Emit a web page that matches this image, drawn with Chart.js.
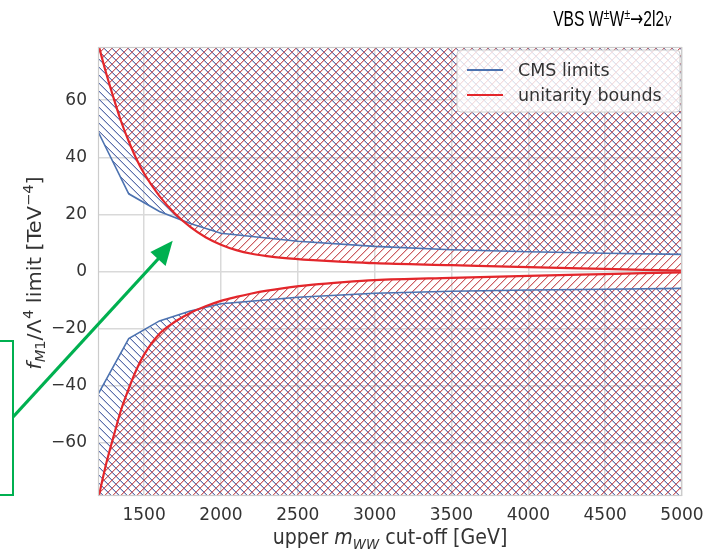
<!DOCTYPE html>
<html><head><meta charset="utf-8">
<script src="https://cdn.jsdelivr.net/npm/chart.js@4/dist/chart.umd.min.js"></script>
<style>
html,body{margin:0;padding:0;background:#fff;}
#wrap{position:relative;width:714px;height:552px;overflow:hidden;background:#fff;}
#c{position:absolute;left:0;top:0;}
#title{position:absolute;right:43px;top:8px;font-family:"Liberation Sans",Arial,sans-serif;font-size:22px;line-height:22px;color:#000;white-space:nowrap;transform-origin:right center;}
#title sup{font-size:70%;vertical-align:0;position:relative;top:-0.45em;line-height:0;}
#title i{font-family:"Liberation Serif","DejaVu Serif",serif;}
#title .ar{font-family:"DejaVu Sans",sans-serif;}
#ov{position:absolute;left:0;top:0;}
</style></head>
<body><div id="wrap">
<canvas id="c" width="714" height="552"></canvas>
<div id="title">VBS W<sup>±</sup>W<sup>±</sup><span class="ar">→</span>2l2<i>ν</i></div>
<svg id="ov" width="714" height="552">
 <rect x="-10" y="341" width="23" height="154" fill="none" stroke="#00b050" stroke-width="2"/>
 <line x1="13" y1="417" x2="159" y2="258" stroke="#00b050" stroke-width="3.3"/>
 <polygon points="172.7,240.7 150.4,252.1 165.6,265.9" fill="#00b050"/>
</svg>
</div>
<script>
// ---- data ----
const seriesNames = ['CMS limits', 'unitarity bounds'];
const xCms = [1200, 1400, 1600, 1800, 2000, 2500, 3000, 3500, 4000, 4500, 5000];
const cmsUpper = [49, 27.2, 21, 16.8, 13.4, 10.6, 8.8, 7.6, 6.9, 6.4, 6.0];
const cmsLower = [-43, -23.5, -17.3, -13.8, -11.3, -9.0, -7.6, -6.9, -6.5, -6.2, -5.9];
const xUnit = [1200, 1250, 1300, 1350, 1400, 1450, 1500, 1600, 1700, 1800, 1900, 2000, 2100, 2200, 2300, 2400, 2600, 2800, 3000, 3500, 4000, 4500, 5000];
const unitUpper = [80, 70, 61, 52.6, 45.6, 39.4, 34.3, 26.4, 20.3, 15.6, 12.0, 9.4, 7.5, 6.2, 5.4, 4.8, 4.0, 3.4, 2.9, 2.2, 1.5, 0.9, 0.3];
const unitLower = [-80, -68, -58, -48.5, -41, -34.4, -29.1, -21.8, -17.6, -14.5, -12.2, -10.3, -8.9, -7.7, -6.7, -5.9, -4.6, -3.7, -3.0, -2.2, -1.5, -0.9, -0.3];
const xTicks = [1500, 2000, 2500, 3000, 3500, 4000, 4500, 5000];
const yTicks = [-60, -40, -20, 0, 20, 40, 60];
const xRange = [1200, 5000];
const yRange = [-78.6, 78.6];

// ---- styles ----
const BLUE = '#4c72b0', RED = '#e3262b', GRID = '#d9d9d9', TXT = '#333333';
// pixel-exact hatch tiles (period P), '/' or '\'
function makeHatch(dir, rgb, P) {
  const c = document.createElement('canvas'); c.width = P; c.height = P;
  const g = c.getContext('2d');
  const img = g.createImageData(P, P);
  const put = (x, y, a) => {
    x = ((x % P) + P) % P; y = ((y % P) + P) % P;
    const i = (y * P + x) * 4;
    const na = Math.max(img.data[i + 3], Math.round(a * 255));
    img.data[i] = rgb[0]; img.data[i + 1] = rgb[1]; img.data[i + 2] = rgb[2]; img.data[i + 3] = na;
  };
  for (let i = 0; i < P; i++) {
    const y = dir === '/' ? P - 1 - i : i;
    put(i, y, 0.95);
    put(i, y + 1, 0.35);
  }
  g.putImageData(img, 0, 0);
  return g.createPattern(c, 'repeat');
}
const ctx = document.getElementById('c').getContext('2d');
const bluePat = makeHatch('\\', [84, 104, 168], 8);
const redPat = makeHatch('/', [200, 84, 88], 8);
const pts = (xs, ys) => xs.map((x, i) => ({ x: x, y: ys[i] }));

const fontOf = (p, size) => `${p.it ? 'italic ' : ''}${(p.sc || 1) * size}px "DejaVu Sans"`;
function richWidth(c, parts, size) { let w = 0; for (const p of parts) { c.font = fontOf(p, size); w += c.measureText(p.t).width; } return w; }
function richDraw(c, parts, size, x, y) {
  let cx = x;
  for (const p of parts) { c.font = fontOf(p, size); c.fillText(p.t, cx, y + (p.dy || 0) * size); cx += c.measureText(p.t).width; }
}
const yTitle = [{ t: 'f', it: true }, { t: 'M', it: true, sc: 0.7, dy: 0.22 }, { t: '1', sc: 0.7, dy: 0.22 }, { t: '/Λ' }, { t: '4', sc: 0.7, dy: -0.42 },
  { t: ' limit [TeV' }, { t: '−4', sc: 0.7, dy: -0.42 }, { t: ']' }];
const xTitle = [{ t: 'upper ' }, { t: 'm', it: true }, { t: 'WW', it: true, sc: 0.7, dy: 0.22 }, { t: ' cut-off [GeV]' }];

const decor = {
  id: 'decor',
  afterDatasetsDraw(chart) {
    const a = chart.chartArea, c = chart.ctx;
    c.save(); c.strokeStyle = '#cccccc'; c.lineWidth = 1.2;
    c.strokeRect(a.left + 0.5, a.top + 0.5, a.right - a.left - 1, a.bottom - a.top - 1);
    c.restore();
  },
  afterDraw(chart) {
    const c = chart.ctx;
    c.save();
    const bx = 457, by = 50, bw = 223, bh = 62, r = 4;
    c.beginPath();
    c.moveTo(bx + r, by); c.lineTo(bx + bw - r, by); c.quadraticCurveTo(bx + bw, by, bx + bw, by + r);
    c.lineTo(bx + bw, by + bh - r); c.quadraticCurveTo(bx + bw, by + bh, bx + bw - r, by + bh);
    c.lineTo(bx + r, by + bh); c.quadraticCurveTo(bx, by + bh, bx, by + bh - r);
    c.lineTo(bx, by + r); c.quadraticCurveTo(bx, by, bx + r, by); c.closePath();
    c.fillStyle = 'rgba(255,255,255,0.8)'; c.fill();
    c.strokeStyle = '#cccccc'; c.lineWidth = 1; c.stroke();
    const rows = [[seriesNames[0], BLUE, 70], [seriesNames[1], RED, 95]];
    for (const [name, col, y] of rows) {
      c.strokeStyle = col; c.lineWidth = 2; c.beginPath(); c.moveTo(467, y); c.lineTo(503, y); c.stroke();
      c.fillStyle = TXT; c.font = '17.5px "DejaVu Sans"'; c.textBaseline = 'middle'; c.textAlign = 'left';
      c.fillText(name, 518, y + 1);
    }
    c.restore();
    c.save();
    c.fillStyle = TXT; c.textBaseline = 'alphabetic'; c.textAlign = 'left';
    const size = 19;
    let w = richWidth(c, xTitle, size);
    c.translate(390, 544); c.scale(1, 1.1);
    richDraw(c, xTitle, size, -w / 2, 0);
    c.restore();
    c.save();
    c.fillStyle = TXT; c.textBaseline = 'alphabetic'; c.textAlign = 'left';
    w = richWidth(c, yTitle, size);
    c.translate(41, 273); c.scale(1, 1.1); c.rotate(-Math.PI / 2);
    richDraw(c, yTitle, size, -w / 2, 0);
    c.restore();
  }
};

const common = { pointRadius: 0, pointHoverRadius: 0 };
new Chart(ctx, {
  type: 'line',
  data: {
    datasets: [
      Object.assign({ label: seriesNames[1], data: pts(xUnit, unitUpper), borderColor: RED, borderWidth: 2.2, fill: 'end', backgroundColor: redPat, cubicInterpolationMode: 'monotone', order: 0 }, common),
      Object.assign({ label: seriesNames[1] + ' (lower)', data: pts(xUnit, unitLower), borderColor: RED, borderWidth: 2.2, fill: 'start', backgroundColor: redPat, cubicInterpolationMode: 'monotone', order: 0 }, common),
      Object.assign({ label: seriesNames[0], data: pts(xCms, cmsUpper), borderColor: BLUE, borderWidth: 1.6, fill: 'end', backgroundColor: bluePat, tension: 0, order: 1 }, common),
      Object.assign({ label: seriesNames[0] + ' (lower)', data: pts(xCms, cmsLower), borderColor: BLUE, borderWidth: 1.6, fill: 'start', backgroundColor: bluePat, tension: 0, order: 1 }, common)
    ]
  },
  options: {
    responsive: false, animation: false, devicePixelRatio: 1,
    layout: { padding: { left: 0, top: 47, right: 32, bottom: 0 } },
    plugins: { legend: { display: false }, tooltip: { enabled: false }, title: { display: false }, filler: { drawTime: 'beforeDatasetsDraw' } },
    scales: {
      x: {
        type: 'linear', min: xRange[0], max: xRange[1],
        afterBuildTicks: a => { a.ticks = xTicks.map(v => ({ value: v })); },
        afterFit: s => { s.height = 56; },
        grid: { color: GRID, lineWidth: 1.5, drawTicks: false },
        border: { display: false },
        ticks: { font: { family: 'DejaVu Sans', size: 17 }, color: TXT, padding: 9, maxRotation: 0, autoSkip: false,
          callback: v => String(v) }
      },
      y: {
        type: 'linear', min: yRange[0], max: yRange[1],
        afterBuildTicks: a => { a.ticks = yTicks.map(v => ({ value: v })); },
        afterFit: s => { s.width = 98; },
        grid: { color: GRID, lineWidth: 1.5, drawTicks: false },
        border: { display: false },
        ticks: { font: { family: 'DejaVu Sans', size: 17 }, color: TXT, padding: 11, autoSkip: false,
          callback: v => (v < 0 ? '\u2212' + Math.abs(v) : String(v)) }
      }
    }
  },
  plugins: [decor]
});
// fit the overlay title to the width it has in the reference (x 553..671)
(function () {
  const t = document.getElementById('title');
  const w = t.getBoundingClientRect().width;
  if (w > 0) t.style.transform = 'scaleX(' + (118 / w).toFixed(3) + ')';
})();
</script>
</body></html>
